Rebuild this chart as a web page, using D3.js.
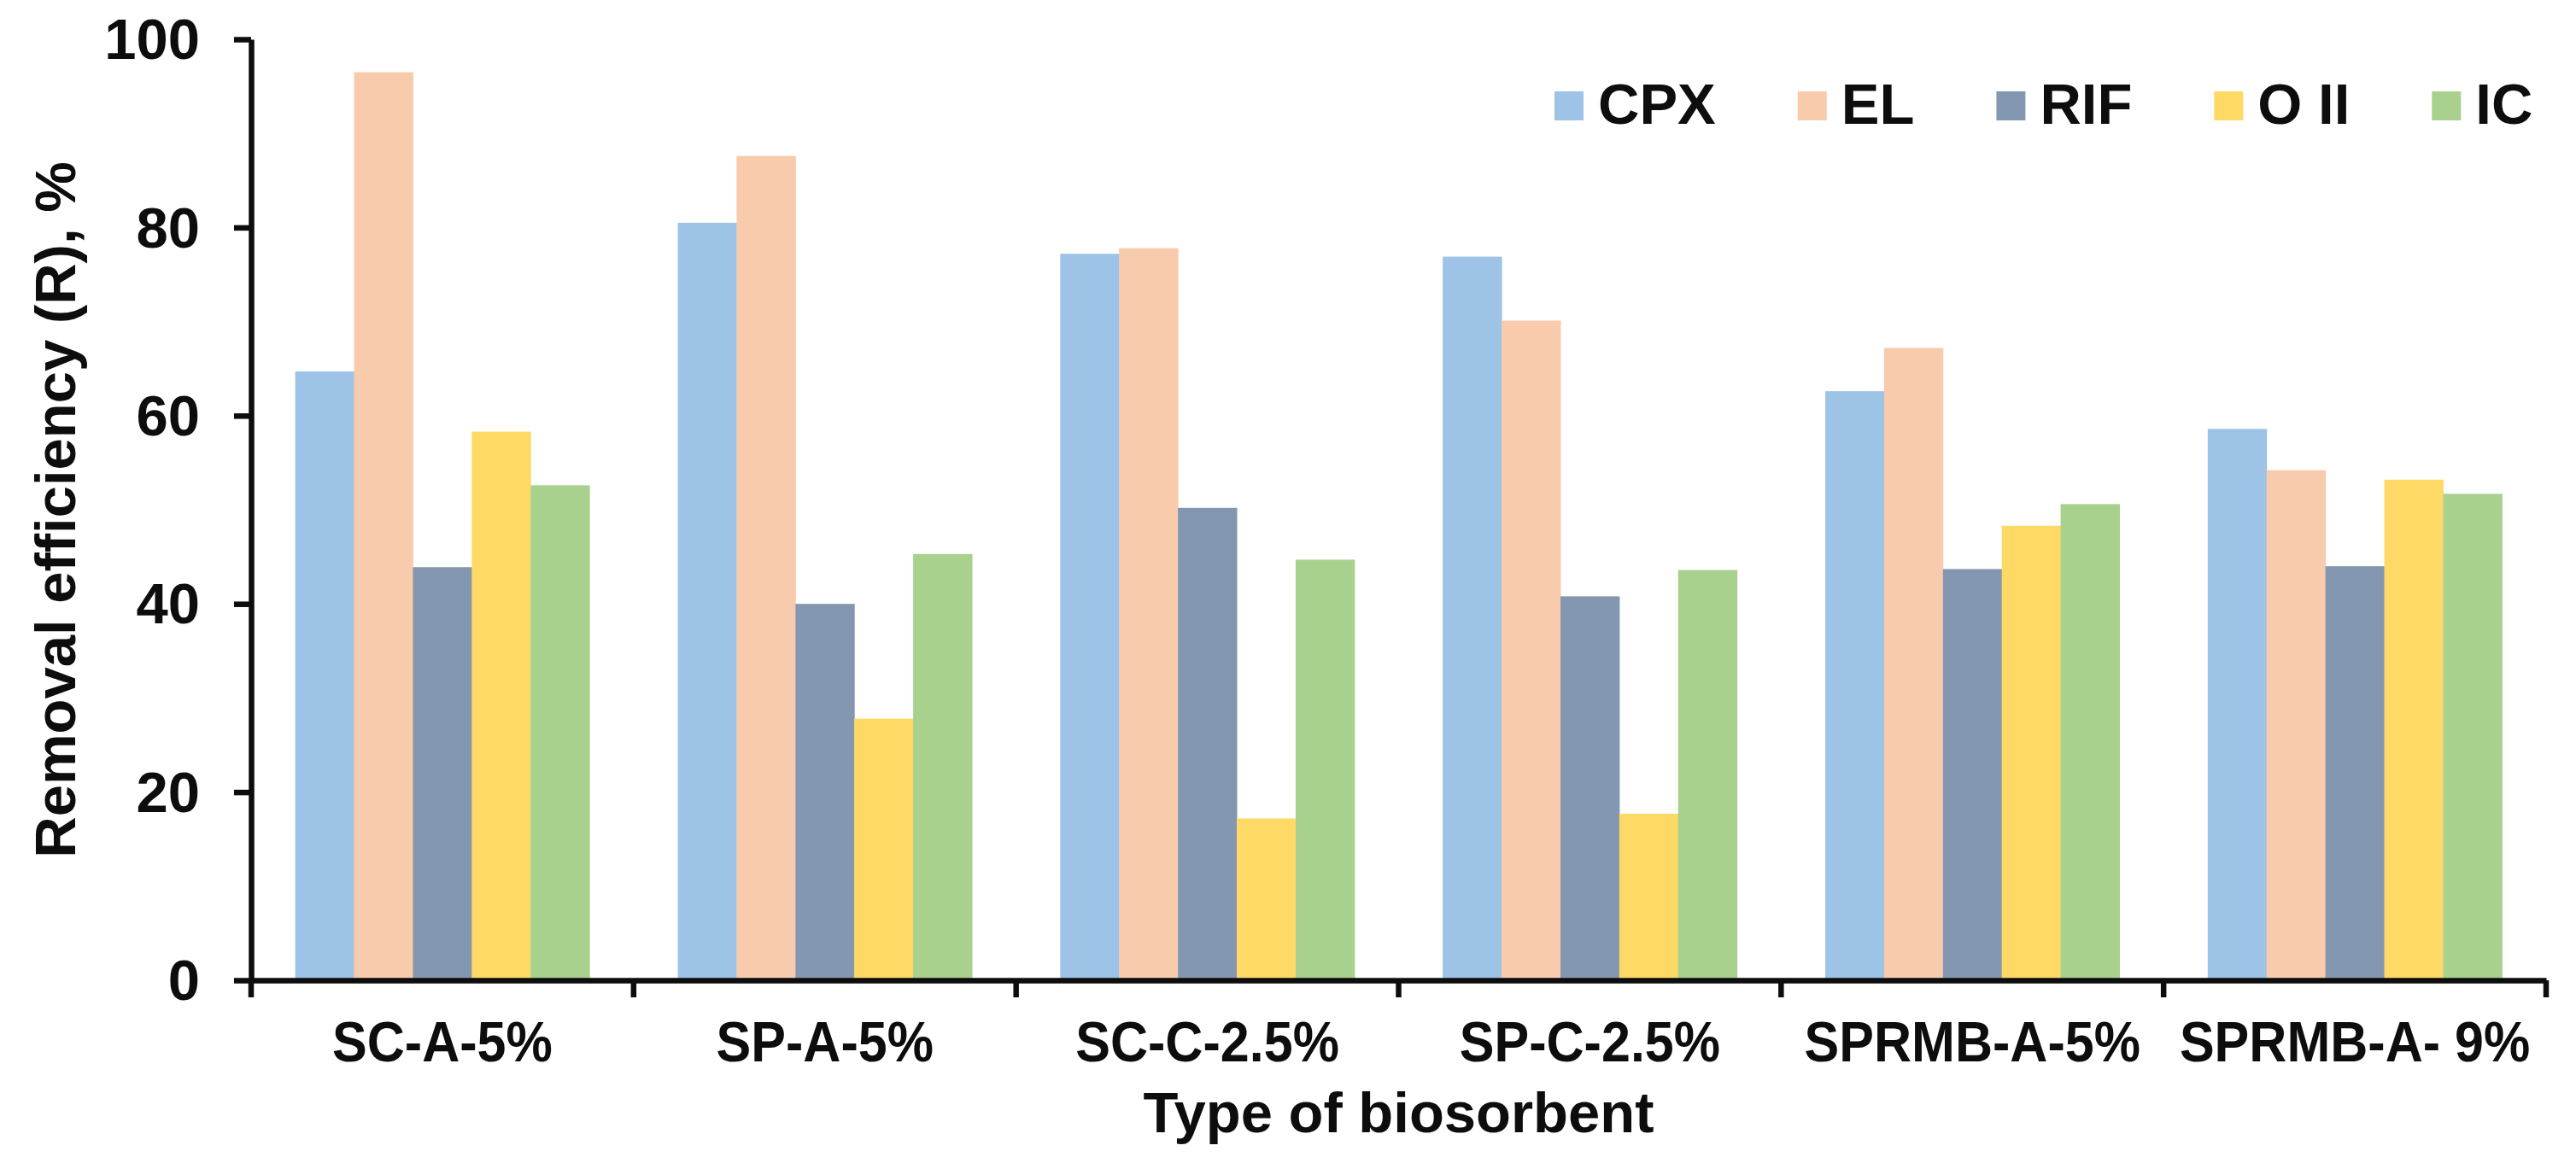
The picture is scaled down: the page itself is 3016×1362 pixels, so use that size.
<!DOCTYPE html>
<html>
<head>
<meta charset="utf-8">
<script src="https://cdn.jsdelivr.net/npm/d3@7"></script>
<style>
  body { margin: 0; background: #fff; }
  text { font-family: "Liberation Sans", Arial, sans-serif; font-weight: bold; fill: #0d0d0d; }
</style>
</head>
<body>
<svg id="chart" width="3016" height="1362"></svg>
<script>
// Datos
const categorias = ['SC-A-5%', 'SP-A-5%', 'SC-C-2.5%', 'SP-C-2.5%', 'SPRMB-A-5%', 'SPRMB-A- 9%'];
const series = ['CPX', 'EL', 'RIF', 'O II', 'IC'];
const colores = ['#9dc3e6', '#f8cbad', '#8497b0', '#ffd966', '#a9d18e'];

const valoresCPX = [64.7, 80.5, 77.2, 76.9, 62.6, 58.6];
const valoresEL  = [96.5, 87.6, 77.8, 70.1, 67.2, 54.2];
const valoresRIF = [43.9, 40.0, 50.2, 40.8, 43.7, 44.0];
const valoresOII = [58.3, 27.8, 17.2, 17.7, 48.3, 53.2];
const valoresIC  = [52.6, 45.3, 44.7, 43.6, 50.6, 51.7];
const valores = [valoresCPX, valoresEL, valoresRIF, valoresOII, valoresIC];

const ticksY = [0, 20, 40, 60, 80, 100];

const margin = { top: 46, right: 35, bottom: 214, left: 294 };
const width = 3016 - margin.left - margin.right;
const height = 1362 - margin.top - margin.bottom;

const svg = d3.select('#chart')
    .append('g')
    .attr('transform', `translate(${margin.left},${margin.top})`);

const x0 = d3.scaleBand().domain(categorias).range([0, width]).paddingInner(0).paddingOuter(0);
const x1 = d3.scaleBand().domain(series).range([0, x0.bandwidth()]).paddingInner(0).paddingOuter(0.75);
const y = d3.scaleLinear().domain([0, 100]).range([height, 0]);
const color = d3.scaleOrdinal().domain(series).range(colores);

// Barras
const filas = categorias.map((c, i) => ({ cat: c, vals: series.map((s, j) => ({ s: s, v: valores[j][i] })) }));

const grupo = svg.selectAll('.grupo')
    .data(filas)
    .enter()
    .append('g')
    .attr('transform', d => `translate(${x0(d.cat)},0)`);

grupo.selectAll('rect')
    .data(d => d.vals)
    .enter()
    .append('rect')
    .attr('x', d => x1(d.s))
    .attr('width', x1.bandwidth() + 0.5)
    .attr('y', d => y(d.v))
    .attr('height', d => height - y(d.v))
    .attr('fill', d => color(d.s));

// Eje Y
const ejeY = svg.append('g')
    .call(d3.axisLeft(y).tickValues(ticksY).tickSize(20).tickSizeOuter(0).tickPadding(40));
ejeY.selectAll('line, path').attr('stroke', '#0d0d0d').attr('stroke-width', 6.5);
ejeY.selectAll('text').attr('font-size', 67).attr('dy', '0.34em');

// Eje X
const ejeX = svg.append('g')
    .attr('transform', `translate(0,${height})`)
    .call(d3.axisBottom(x0).tickSize(0).tickSizeOuter(0).tickPadding(48));
ejeX.select('path').attr('stroke', '#0d0d0d').attr('stroke-width', 6.5);
// Las etiquetas del original están algo comprimidas
ejeX.selectAll('text')
    .attr('font-size', 66)
    .each(function () {
        const largo = this.getComputedTextLength();
        d3.select(this).attr('textLength', largo * 0.925).attr('lengthAdjust', 'spacingAndGlyphs');
    });

// Marcas entre categorías
const bordes = categorias.map(c => x0(c)).concat([width]);
ejeX.selectAll('.borde')
    .data(bordes)
    .enter()
    .append('line')
    .attr('class', 'borde')
    .attr('x1', d => d).attr('x2', d => d)
    .attr('y1', 0).attr('y2', 20)
    .attr('stroke', '#0d0d0d')
    .attr('stroke-width', 6.5);

// Títulos
svg.append('text')
    .attr('x', width / 2)
    .attr('y', height + 178)
    .attr('text-anchor', 'middle')
    .attr('font-size', 67)
    .text('Type of biosorbent');

svg.append('text')
    .attr('transform', `translate(${88 - margin.left},${height / 2}) rotate(-90)`)
    .attr('text-anchor', 'middle')
    .attr('font-size', 67)
    .text('Removal efficiency (R), %');

// Leyenda
const leyenda = d3.select('#chart').append('g');
let lx = 1820;
series.forEach(s => {
    leyenda.append('rect')
        .attr('x', lx).attr('y', 107)
        .attr('width', 34).attr('height', 34)
        .attr('fill', color(s));
    const t = leyenda.append('text')
        .attr('x', lx + 51).attr('y', 145)
        .attr('font-size', 67)
        .text(s);
    lx += 51 + t.node().getComputedTextLength() + 96;
});
</script>
</body>
</html>
